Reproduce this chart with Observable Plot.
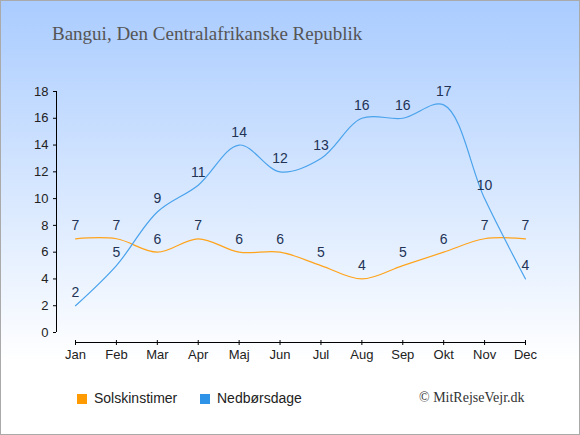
<!DOCTYPE html>
<html>
<head>
<meta charset="utf-8">
<script src="https://cdn.jsdelivr.net/npm/d3@7"></script>
<script src="https://cdn.jsdelivr.net/npm/@observablehq/plot@0.6"></script>
<style>
  html, body { margin: 0; padding: 0; }
  #wrap {
    position: relative; width: 580px; height: 435px; box-sizing: border-box;
    border: 1px solid #aaaaaa;
    background: linear-gradient(to bottom, #aaccff 0px, #ffffff 360px, #ffffff 435px);
    overflow: hidden;
    font-family: "Liberation Sans", Arial, sans-serif;
  }
  #title {
    position: absolute; left: 51px; top: 22px; font-family: "Liberation Serif", "DejaVu Serif", serif;
    font-size: 19px; color: #555555; white-space: nowrap;
  }
  #chart { position: absolute; left: -1px; top: -1px; width: 580px; }
  #chart svg { max-width: none; }
  .leg { position: absolute; top: 389px; font-size: 14px; color: #222; white-space: nowrap; }
  .sw { display: inline-block; width: 10px; height: 10px; vertical-align: -1px; margin-right: 7px; }
  #copy { position: absolute; left: 418px; top: 389px; font-family: "Liberation Serif", serif; font-size: 14px; color: #333; }
</style>
</head>
<body>
<div id="wrap">
  <div id="chart"></div>
  <div id="title">Bangui, Den Centralafrikanske Republik</div>
  <div class="leg" style="left:76px"><span class="sw" style="background:#ff9a00"></span>Solskinstimer</div>
  <div class="leg" style="left:199px"><span class="sw" style="background:#2f94e8"></span>Nedbørsdage</div>
  <div id="copy">© MitRejseVejr.dk</div>
</div>
<script>
const months = ["Jan","Feb","Mar","Apr","Maj","Jun","Jul","Aug","Sep","Okt","Nov","Dec"];
const sunHours = [7,7,6,7,6,6,5,4,5,6,7,7];
const rainDays = [2,5,9,11,14,12,13,16,16,17,10,4];
const yTicks = [0,2,4,6,8,10,12,14,16,18];

const sun = months.map((m, i) => ({month: m, value: sunHours[i]}));
const rain = months.map((m, i) => ({month: m, value: rainDays[i]}));

const first = () => months[0];
const last = () => months[months.length - 1];
const labelColor = "#223355";
const chart = Plot.plot({
  width: 580,
  height: 435,
  marginLeft: 75,
  marginRight: 55,
  marginTop: 91,
  marginBottom: 103,
  style: {background: "transparent", fontFamily: "'Liberation Sans', Arial, sans-serif", fontSize: "13px", color: "#222"},
  x: {type: "point", domain: months, padding: 0, round: false, axis: null},
  y: {domain: [0, 18], axis: null},
  marks: [
    Plot.ruleX([months[0]], {y1: 0, y2: 18, dx: -19, stroke: "#000"}),
    Plot.ruleY(yTicks, {y: d => d, x1: first, x2: first, dx: -19, insetLeft: -3, stroke: "#000"}),
    Plot.text(yTicks, {y: d => d, x: first, dx: -27, text: d => String(d), textAnchor: "end", fill: "#222", fontSize: 13}),
    Plot.ruleY([0], {x1: first, x2: last, dy: 10, stroke: "#000"}),
    Plot.ruleX(months, {x: d => d, y1: () => 0, y2: () => 0, dy: 10, insetTop: -2, insetBottom: -3, stroke: "#000"}),
    Plot.text(months, {x: d => d, y: () => 0, dy: 22, text: d => d, fill: "#222", fontSize: 13}),
    Plot.line(sun, {x: "month", y: "value", stroke: "#ffa41c", strokeWidth: 1.2, curve: "catmull-rom"}),
    Plot.line(rain, {x: "month", y: "value", stroke: "#4aa3ec", strokeWidth: 1.2, curve: "catmull-rom"}),
    Plot.text(sun, {x: "month", y: "value", text: d => String(d.value), dy: -13, fill: labelColor, fontSize: 14}),
    Plot.text(rain, {x: "month", y: "value", text: d => String(d.value), dy: -13, fill: labelColor, fontSize: 14})
  ]
});
document.getElementById("chart").appendChild(chart);
</script>
</body>
</html>
